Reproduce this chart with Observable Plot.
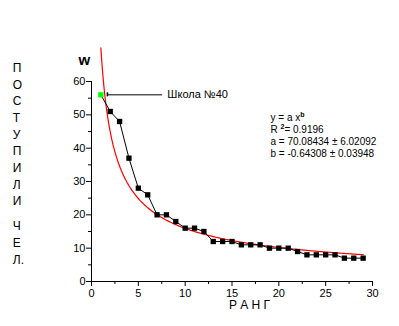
<!DOCTYPE html>
<html><head><meta charset="utf-8">
<script src="https://cdn.jsdelivr.net/npm/d3@7"></script>
<script src="https://cdn.jsdelivr.net/npm/@observablehq/plot@0.6"></script>
<style>
body{margin:0;background:#fff;}
svg{font-family:"Liberation Sans",Arial,sans-serif;}
</style>
</head><body><div id="chart"></div>
<script>
// ---- data ----
const ranks = [1,2,3,4,5,6,7,8,9,10,11,12,13,14,15,16,17,18,19,20,21,22,23,24,25,26,27,28,29];
const students = [56,51,48,37,28,26,20,20,18,16,16,15,12,12,12,11,11,11,10,10,10,9,8,8,8,8,7,7,7];
const highlightRank = 1;
const highlightLabel = "Школа №40";
const fitA = 70.08434;
const fitB = -0.64308;
const fitLines = ["y = a x^b", "R ^2= 0.9196", "a = 70.08434 ± 6.02092", "b = -0.64308 ± 0.03948"];
const xTicks = [0,5,10,15,20,25,30];
const yTicks = [0,10,20,30,40,50,60];
const xMinor = [2.5,7.5,12.5,17.5,22.5,27.5];
const yMinor = [5,15,25,35,45,55];
const xLabel = "Р А Н Г";
const yLabelTop = ["П","О","С","Т","У","П","И","Л","И"];
const yLabelBottom = ["Ч","Е","Л."];
const unitLabel = "w";

// ---- build ----
const data = ranks.map((r,i)=>({rank:r, students:students[i]}));
const highlight = data.filter(d=>d.rank===highlightRank);
const fitX = d3.range(1, 29.001, 0.1);
const fit = fitX.map(x=>({rank:x, students: fitA*Math.pow(x, fitB)}));

const chart = Plot.plot({
  width:399, height:326,
  marginLeft:91, marginRight:27, marginTop:81, marginBottom:45,
  style:{fontFamily:"'Liberation Sans',Arial,sans-serif", fontSize:"11px", background:"white", color:"black", overflow:"visible"},
  x:{domain:[0,30]},
  y:{domain:[0,60]},
  marks:[
    Plot.ruleY([0],{stroke:"black", strokeWidth:1, shapeRendering:"crispEdges"}),
    Plot.ruleX([0],{stroke:"black", strokeWidth:1, shapeRendering:"crispEdges"}),
    Plot.axisX({ticks:xTicks, tickSize:5, tickPadding:3, label:null, fontSize:11, stroke:"black", strokeOpacity:1}),
    Plot.axisX({ticks:xMinor, tickSize:3, tickFormat:()=>"", label:null, stroke:"black", strokeOpacity:1}),
    Plot.axisY({ticks:yTicks, tickSize:5, tickPadding:1, label:null, fontSize:11, stroke:"black", strokeOpacity:1}),
    Plot.axisY({ticks:yMinor, tickSize:3, tickFormat:()=>"", label:null, stroke:"black", strokeOpacity:1}),
    Plot.line(fit,{x:"rank", y:"students", stroke:"#ff0000", strokeWidth:1.2}),
    Plot.line(data,{x:"rank", y:"students", stroke:"black", strokeWidth:1}),
    Plot.dot(data.filter(d=>d.rank!==highlightRank),{x:"rank", y:"students", symbol:"square", fill:"black", r:3}),
    Plot.dot(highlight,{x:"rank", y:"students", symbol:"square", fill:"#00ff00", r:3}),
    Plot.ruleY(highlight,{y:"students", x1:d=>d.rank+0.7, x2:d=>d.rank+6.6, stroke:"black", strokeWidth:1}),
    Plot.ruleX(highlight,{x:d=>d.rank+0.7, y1:d=>d.students-0.6, y2:d=>d.students+0.6, stroke:"black", strokeWidth:1.5}),
    Plot.text(highlight,{x:d=>d.rank+7.1, y:"students", text:()=>highlightLabel, textAnchor:"start", fontSize:11, fill:"black"}),
    Plot.text([fitLines.join("\n")],{frameAnchor:"top-left", dx:179, dy:30.5, lineAnchor:"top", textAnchor:"start", fontSize:10, lineHeight:1.2, fill:"black", className:"fit-text"}),
    Plot.text([unitLabel],{frameAnchor:"top-left", dx:-13, dy:-27, fontWeight:"bold", fontSize:15, fill:"black"}),
    Plot.text([yLabelTop.join("\n")],{frameAnchor:"top-left", dx:-78.7, dy:-21.5, lineAnchor:"top", textAnchor:"start", fontSize:12, lineHeight:1.39, fill:"black"}),
    Plot.text([yLabelBottom.join("\n")],{frameAnchor:"top-left", dx:-78.7, dy:137, lineAnchor:"top", textAnchor:"start", fontSize:12, lineHeight:1.39, fill:"black"}),
    Plot.text([xLabel],{frameAnchor:"bottom", dx:17.5, dy:27, fontSize:12, fill:"black"})
  ]
});
// render ^ superscripts in the fit annotation
d3.select(chart).selectAll(".fit-text tspan").each(function(){
  const t = this.textContent;
  const i = t.indexOf("^");
  if (i < 0) return;
  const sup = t.charAt(i+1), rest = t.slice(i+2);
  const sel = d3.select(this);
  sel.text(t.slice(0,i));
  sel.append("tspan").attr("baseline-shift","4px").attr("font-size","7").attr("font-weight","bold").text(sup);
  if (rest) sel.append("tspan").text(rest);
});
document.getElementById("chart").appendChild(chart);
</script>
</body></html>
